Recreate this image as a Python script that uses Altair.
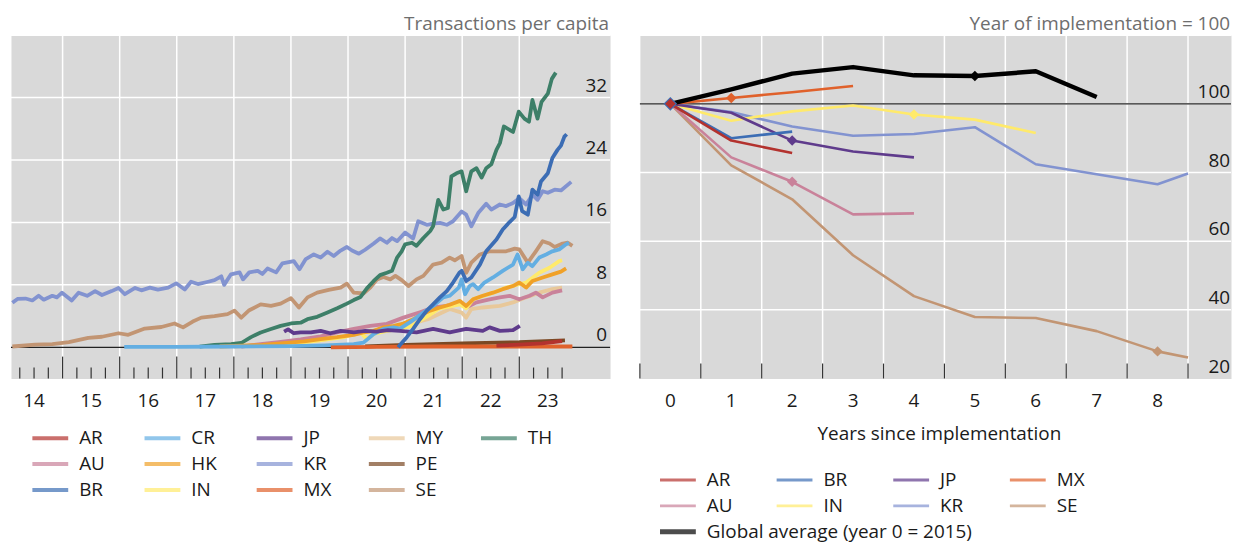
import altair as alt
import pandas as pd

FONT = "Open Sans"
FS = 19
TXT = "#1a1a1a"
GREY_TXT = "#6e6e6e"
BG = "#d9d9d9"
LEFT_W, RIGHT_W, H = 602, 594, 345
RIGHT_UNIT = 61.2  # px per year on the right panel

# ---------------- left panel: transactions per capita ----------------
left_title = "Transactions per capita"
left_codes = ["AR", "AU", "BR", "CR", "HK", "IN", "JP", "KR", "MX", "MY", "PE", "SE", "TH"]
left_colors = ["#b3322e", "#c9829a", "#3c6db4", "#63aee2", "#f0a128", "#ffea6b", "#5f3b8c",
               "#8293d0", "#e0612b", "#e8c89a", "#7b4924", "#c29573", "#3d7f68"]
left_draw_order = ["KR", "SE", "TH", "MY", "AU", "IN", "HK", "CR", "JP", "PE", "MX", "BR", "AR"]

KR = [(2014.12, 5.7), (2014.21, 6.2), (2014.35, 6.25), (2014.47, 6.0), (2014.58, 6.6), (2014.67, 6.1),
      (2014.82, 6.6), (2014.90, 6.4), (2014.99, 7.0), (2015.16, 6.0), (2015.28, 7.0), (2015.43, 6.6),
      (2015.57, 7.2), (2015.69, 6.7), (2015.86, 7.2), (2015.98, 7.6), (2016.09, 6.8), (2016.27, 7.6),
      (2016.38, 7.3), (2016.53, 7.65), (2016.67, 7.4), (2016.85, 7.65), (2016.99, 8.2), (2017.14, 7.4),
      (2017.25, 8.4), (2017.37, 8.1), (2017.55, 8.4), (2017.66, 8.6), (2017.78, 9.1), (2017.83, 8.0),
      (2017.95, 9.35), (2018.10, 9.6), (2018.16, 8.7), (2018.27, 9.6), (2018.42, 9.8), (2018.50, 9.4),
      (2018.59, 10.1), (2018.74, 9.6), (2018.85, 10.75), (2019.05, 11.05), (2019.15, 10.0), (2019.26, 11.3),
      (2019.40, 11.9), (2019.52, 11.5), (2019.64, 12.25), (2019.75, 11.7), (2019.87, 12.4), (2019.98, 12.85),
      (2020.07, 12.4), (2020.19, 12.0), (2020.30, 12.5), (2020.45, 13.3), (2020.56, 13.95), (2020.68, 13.4),
      (2020.77, 14.0), (2020.86, 13.6), (2021.00, 14.7), (2021.14, 13.95), (2021.23, 16.15), (2021.38, 15.7),
      (2021.49, 15.85), (2021.61, 15.95), (2021.73, 15.7), (2021.84, 16.15), (2021.99, 17.4), (2022.07, 17.0),
      (2022.16, 15.5), (2022.28, 17.2), (2022.42, 18.4), (2022.51, 17.65), (2022.66, 18.3), (2022.77, 18.1),
      (2022.89, 18.5), (2023.00, 19.1), (2023.12, 18.3), (2023.23, 19.55), (2023.32, 18.9), (2023.41, 20.0),
      (2023.50, 19.8), (2023.62, 20.2), (2023.73, 20.1), (2023.91, 21.2)]
SE = [(2014.12, 0.1), (2014.52, 0.35), (2014.82, 0.4), (2015.11, 0.65), (2015.45, 1.2), (2015.69, 1.35),
      (2015.98, 1.8), (2016.15, 1.6), (2016.44, 2.4), (2016.73, 2.6), (2016.96, 3.05), (2017.11, 2.55),
      (2017.28, 3.3), (2017.43, 3.8), (2017.66, 4.0), (2017.89, 4.25), (2018.01, 4.7), (2018.13, 3.8),
      (2018.27, 4.75), (2018.47, 5.5), (2018.65, 5.3), (2018.82, 5.6), (2019.00, 6.3), (2019.14, 5.1),
      (2019.29, 6.4), (2019.46, 7.0), (2019.66, 7.35), (2019.87, 7.65), (2019.98, 8.15), (2020.10, 7.0),
      (2020.27, 6.9), (2020.39, 7.65), (2020.51, 8.7), (2020.62, 9.0), (2020.74, 8.7), (2020.83, 9.15),
      (2020.94, 8.6), (2021.06, 7.85), (2021.20, 8.7), (2021.32, 9.15), (2021.49, 10.6), (2021.64, 10.85),
      (2021.78, 11.5), (2021.87, 11.15), (2021.99, 11.7), (2022.07, 9.55), (2022.16, 10.85), (2022.31, 11.9),
      (2022.48, 12.3), (2022.63, 12.3), (2022.77, 12.3), (2022.92, 12.65), (2023.00, 12.55), (2023.15, 10.85),
      (2023.29, 12.3), (2023.41, 13.6), (2023.53, 13.3), (2023.62, 12.85), (2023.76, 13.3), (2023.85, 13.4),
      (2023.93, 13.0)]
TH = [(2017.40, 0.1), (2017.66, 0.3), (2017.95, 0.4), (2018.13, 0.55), (2018.30, 1.3), (2018.47, 1.9),
      (2018.65, 2.35), (2018.82, 2.75), (2019.00, 3.05), (2019.17, 3.15), (2019.29, 3.6), (2019.46, 3.9),
      (2019.64, 4.45), (2019.81, 5.0), (2019.98, 5.6), (2020.10, 6.05), (2020.22, 6.45), (2020.33, 7.55),
      (2020.45, 8.5), (2020.56, 9.25), (2020.68, 9.55), (2020.77, 9.8), (2020.86, 11.5), (2020.94, 12.3),
      (2021.00, 13.2), (2021.12, 13.4), (2021.20, 13.0), (2021.32, 14.0), (2021.44, 14.9), (2021.49, 15.5),
      (2021.58, 18.9), (2021.67, 17.65), (2021.75, 17.85), (2021.81, 21.9), (2021.90, 22.3), (2021.99, 22.55),
      (2022.07, 20.0), (2022.16, 22.55), (2022.25, 22.95), (2022.34, 21.75), (2022.42, 22.95), (2022.51, 23.45),
      (2022.60, 25.3), (2022.66, 26.15), (2022.73, 28.3), (2022.89, 27.6), (2022.99, 30.2), (2023.09, 29.3),
      (2023.17, 28.9), (2023.23, 31.7), (2023.32, 29.3), (2023.39, 31.45), (2023.50, 32.5), (2023.57, 34.4),
      (2023.64, 35.2)]
BR = [(2020.88, 0.0), (2020.91, 0.3), (2021.03, 1.3), (2021.14, 2.35), (2021.26, 3.6), (2021.38, 4.7),
      (2021.49, 5.5), (2021.61, 6.4), (2021.73, 7.2), (2021.84, 8.3), (2021.95, 9.55), (2021.99, 9.8),
      (2022.07, 8.5), (2022.16, 8.95), (2022.31, 10.6), (2022.42, 12.3), (2022.60, 13.8), (2022.71, 15.1),
      (2022.83, 16.05), (2022.92, 16.7), (2022.99, 19.35), (2023.05, 17.45), (2023.15, 17.0), (2023.23, 20.2),
      (2023.32, 19.55), (2023.38, 21.25), (2023.50, 22.3), (2023.58, 24.25), (2023.67, 25.3), (2023.73, 25.85),
      (2023.79, 27.0), (2023.83, 27.3)]
CR = [(2016.08, 0.05), (2017.00, 0.05), (2018.00, 0.1), (2019.00, 0.15), (2019.60, 0.25), (2020.10, 0.4),
      (2020.27, 0.6), (2020.45, 1.7), (2020.62, 2.35), (2020.80, 2.55), (2020.91, 2.4), (2021.08, 3.2),
      (2021.20, 3.8), (2021.32, 4.45), (2021.49, 5.3), (2021.67, 6.4), (2021.78, 6.6), (2021.94, 7.65),
      (2021.99, 8.7), (2022.05, 6.8), (2022.13, 7.85), (2022.19, 8.1), (2022.28, 7.45), (2022.39, 8.3),
      (2022.54, 8.95), (2022.71, 9.8), (2022.89, 10.6), (2022.97, 11.9), (2023.06, 10.0), (2023.15, 10.85),
      (2023.23, 10.4), (2023.35, 11.5), (2023.47, 11.9), (2023.58, 12.3), (2023.70, 12.55), (2023.82, 13.2),
      (2023.87, 13.4)]
HK = [(2017.75, 0.1), (2018.50, 0.3), (2018.82, 0.5), (2019.23, 0.75), (2019.52, 1.05), (2019.81, 1.3),
      (2020.10, 1.6), (2020.27, 1.9), (2020.45, 2.1), (2020.62, 2.55), (2020.80, 2.75), (2020.97, 3.05),
      (2021.14, 3.6), (2021.26, 4.05), (2021.44, 4.7), (2021.61, 5.1), (2021.78, 5.45), (2021.96, 5.95),
      (2022.07, 5.3), (2022.19, 6.15), (2022.36, 6.6), (2022.54, 7.0), (2022.71, 7.45), (2022.89, 7.85),
      (2023.00, 8.3), (2023.12, 7.65), (2023.23, 8.5), (2023.41, 8.95), (2023.58, 9.35), (2023.73, 9.7),
      (2023.82, 10.1)]
IN = [(2018.70, 0.3), (2019.30, 0.7), (2019.93, 1.3), (2020.10, 1.7), (2020.22, 1.9), (2020.33, 1.05),
      (2020.45, 1.7), (2020.68, 2.1), (2020.91, 2.35), (2021.12, 2.75), (2021.26, 3.4), (2021.44, 4.2),
      (2021.61, 5.0), (2021.96, 5.5), (2022.07, 5.0), (2022.19, 6.15), (2022.54, 7.0), (2022.77, 7.65),
      (2023.12, 8.3), (2023.35, 9.55), (2023.53, 10.2), (2023.70, 11.05), (2023.75, 11.15)]
MY = [(2018.00, 0.1), (2018.80, 0.4), (2019.50, 0.9), (2020.00, 1.5), (2020.50, 2.2), (2021.00, 2.8),
      (2021.40, 3.6), (2021.78, 4.9), (2021.99, 4.45), (2022.07, 3.8), (2022.16, 4.9), (2022.36, 5.1),
      (2022.66, 5.3), (2022.89, 5.75), (2023.12, 6.4), (2023.35, 7.0), (2023.58, 7.45), (2023.75, 7.65)]
AU = [(2018.13, 0.1), (2018.47, 0.4), (2018.82, 0.7), (2019.17, 1.0), (2019.52, 1.4), (2019.81, 1.9),
      (2020.10, 2.35), (2020.39, 2.75), (2020.68, 3.0), (2020.97, 3.8), (2021.12, 4.15), (2021.26, 4.5),
      (2021.49, 5.1), (2021.73, 5.3), (2021.96, 5.75), (2022.07, 5.1), (2022.25, 5.75), (2022.48, 6.15),
      (2022.66, 6.4), (2022.83, 6.6), (2023.00, 6.15), (2023.18, 6.6), (2023.29, 7.0), (2023.41, 6.4),
      (2023.58, 7.0), (2023.75, 7.3)]
JP = [(2018.88, 2.0), (2018.95, 2.3), (2019.05, 1.8), (2019.17, 1.9), (2019.35, 1.9), (2019.52, 2.1),
      (2019.69, 1.8), (2019.87, 2.1), (2020.10, 1.9), (2020.30, 2.1), (2020.50, 2.0), (2020.70, 2.2),
      (2020.91, 2.1), (2021.20, 1.9), (2021.49, 2.35), (2021.78, 1.9), (2022.07, 2.35), (2022.36, 2.1),
      (2022.48, 2.55), (2022.66, 2.1), (2022.89, 2.2), (2023.01, 2.75)]
MX = [(2019.70, 0.0), (2020.50, 0.05), (2021.50, 0.1), (2022.50, 0.1), (2023.93, 0.1)]
PE = [(2020.30, 0.1), (2021.00, 0.3), (2022.00, 0.5), (2023.00, 0.65), (2023.80, 0.9)]
AR = [(2022.60, 0.2), (2023.00, 0.35), (2023.40, 0.5), (2023.75, 0.8)]

left_series = {"KR": KR, "SE": SE, "TH": TH, "BR": BR, "CR": CR, "HK": HK, "IN": IN, "MY": MY,
               "AU": AU, "JP": JP, "MX": MX, "PE": PE, "AR": AR}

left_years = list(range(2014, 2024))
left_x_labels = ["14", "15", "16", "17", "18", "19", "20", "21", "22", "23"]
left_y_labels = [0, 8, 16, 24, 32]
left_y_grid = [8, 16, 24, 32, 40]

# ---------------- right panel ----------------
right_title = "Year of implementation = 100"
right_x_title = "Years since implementation"
global_name = "Global average (year 0 = 2015)"
right_codes = ["AR", "AU", "BR", "IN", "JP", "KR", "MX", "SE"]
right_colors = ["#b3322e", "#c9829a", "#3c6db4", "#ffea6b", "#5f3b8c", "#8293d0", "#e0612b", "#c29573"]
right_draw_order = ["SE", "AU", "KR", "IN", "JP", "BR", "AR", "MX", "GL"]

r_AR = [(0, 100), (1, 89.3), (2, 85.7)]
r_AU = [(0, 100), (1, 84.4), (2, 77.3), (3, 67.8), (4, 68.1)]
r_BR = [(0, 100), (1, 90.0), (2, 91.9)]
r_IN = [(0, 100), (1, 95.1), (2, 97.8), (3, 99.5), (4, 96.9), (5, 95.4), (6, 91.5)]
r_JP = [(0, 100), (1, 97.4), (2, 89.3), (3, 86.1), (4, 84.4)]
r_KR = [(0, 100), (1, 97.6), (2, 93.4), (3, 90.7), (4, 91.2), (5, 93.2), (6, 82.4), (7, 79.5), (8, 76.6), (8.5, 79.7)]
r_MX = [(0, 100), (1, 101.7), (2, 103.4), (3, 105.2)]
r_SE = [(0, 100), (1, 82.1), (2, 72.2), (3, 55.9), (4, 44.0), (5, 37.9), (6, 37.6), (7, 33.8), (8, 27.9), (8.5, 26.1)]
r_GL = [(0, 100), (1, 104.2), (2, 108.8), (3, 110.7), (4, 108.3), (5, 108.1), (6, 109.5), (7, 102.0)]
right_series = {"AR": r_AR, "AU": r_AU, "BR": r_BR, "IN": r_IN, "JP": r_JP, "KR": r_KR,
                "MX": r_MX, "SE": r_SE, "GL": r_GL}
marker_codes = ["BR", "AR", "MX", "JP", "AU", "IN", "SE", "GL"]
marker_years = [0, 0, 1, 2, 2, 4, 8, 5]

right_years = list(range(0, 9))
right_x_labels = [str(y) for y in right_years]
right_y_labels = [20, 40, 60, 80, 100]
right_y_grid = [40, 60, 80, 100, 120]

# ------------------------------------------------------------------
color_of = dict(zip(left_codes, left_colors))
rcolor_of = dict(zip(right_codes, right_colors))
rcolor_of["GL"] = "#000000"


def legend_layer(df, x0, dx, y0, dy, width, thick_col):
    d0 = -x0 / dx
    xs = alt.Scale(domain=[d0, d0 + width / dx], nice=False, zero=False)
    e0 = -y0 / dy
    ys = alt.Scale(domain=[e0, e0 + H / dy], nice=False, zero=False, reverse=True)
    layers = []
    for th in sorted(df[thick_col].unique()):
        sub = df[df[thick_col] == th]
        layers.append(alt.Chart(sub).mark_tick(orient="horizontal", size=36, thickness=float(th)).encode(
            x=alt.X("col:Q", scale=xs, axis=None),
            y=alt.Y("row:Q", scale=ys, axis=None),
            color=alt.Color("color:N", scale=None)))
    layers.append(alt.Chart(df).mark_text(align="left", baseline="middle", dx=29, fontSize=FS, color=TXT).encode(
        x=alt.X("col:Q", scale=xs, axis=None),
        y=alt.Y("row:Q", scale=ys, axis=None),
        text="label:N"))
    return alt.layer(*layers)


# ---------------- left chart ----------------
xL = alt.Scale(domain=[2014.096, 2024.59], nice=False, zero=False)
yL = alt.Scale(domain=[-4, 40], nice=False, zero=False)

bounds_df = pd.DataFrame({"t": left_years[1:]})
quarters_df = pd.DataFrame({"t": [y + q for y in left_years for q in (0.25, 0.5, 0.75)]})
xlab_df = pd.DataFrame({"t": [y + 0.5 for y in left_years], "lab": left_x_labels})

L = []
L.append(alt.Chart(bounds_df).mark_rule(color="white", strokeWidth=1.5).encode(
    x=alt.X("t:Q", scale=xL, axis=None)))
L.append(alt.Chart(pd.DataFrame({"v": left_y_grid})).mark_rule(color="white", strokeWidth=1.5).encode(
    y=alt.Y("v:Q", scale=yL, axis=None)))
L.append(alt.Chart(pd.DataFrame({"v": [0]})).mark_rule(color="#222222", strokeWidth=1.2).encode(
    y=alt.Y("v:Q", scale=yL, axis=None)))
L.append(alt.Chart(bounds_df).mark_rule(color="#333333", strokeWidth=1.2).encode(
    x=alt.X("t:Q", scale=xL, axis=None), y=alt.value(H - 22), y2=alt.value(H)))
L.append(alt.Chart(quarters_df).mark_rule(color="#333333", strokeWidth=1.2).encode(
    x=alt.X("t:Q", scale=xL, axis=None), y=alt.value(H - 11), y2=alt.value(H)))
for code in left_draw_order:
    df = pd.DataFrame(left_series[code], columns=["t", "v"])
    L.append(alt.Chart(df).mark_line(color=color_of[code], strokeWidth=3.8, strokeJoin="round").encode(
        x=alt.X("t:Q", scale=xL, axis=None), y=alt.Y("v:Q", scale=yL, axis=None)))
L.append(alt.Chart(pd.DataFrame({"v": left_y_labels})).mark_text(
    align="right", baseline="alphabetic", dy=-6, fontSize=FS, color=TXT).encode(
    x=alt.value(LEFT_W - 3), y=alt.Y("v:Q", scale=yL, axis=None), text=alt.Text("v:Q", format="d")))
L.append(alt.Chart(xlab_df).mark_text(align="center", baseline="middle", fontSize=FS, color=TXT).encode(
    x=alt.X("t:Q", scale=xL, axis=None), y=alt.value(H + 23), text="lab:N"))
L.append(alt.Chart(pd.DataFrame({"s": [left_title]})).mark_text(
    align="right", baseline="alphabetic", fontSize=FS, color=GREY_TXT).encode(
    x=alt.value(LEFT_W - 1), y=alt.value(-5), text="s:N"))

leg_left = pd.DataFrame({"label": left_codes, "color": left_colors,
                         "col": [i // 3 for i in range(len(left_codes))],
                         "row": [i % 3 for i in range(len(left_codes))],
                         "th": [4] * len(left_codes)})
left_chart = alt.layer(alt.layer(*L), legend_layer(leg_left, 39.5, 112.7, 405, 26, LEFT_W, "th")).resolve_scale(
    x="independent", y="independent").properties(width=LEFT_W, height=H)

# ---------------- right chart ----------------
xR = alt.Scale(domain=[-0.5, -0.5 + RIGHT_W / RIGHT_UNIT], nice=False, zero=False)
yR = alt.Scale(domain=[20, 120], nice=False, zero=False)
half_df = pd.DataFrame({"yr": [y + 0.5 for y in right_years]})
edge_df = pd.DataFrame({"yr": [-0.5] + [y + 0.5 for y in right_years]})
rxlab_df = pd.DataFrame({"yr": right_years, "lab": right_x_labels})

R = []
R.append(alt.Chart(half_df).mark_rule(color="white", strokeWidth=1.5).encode(
    x=alt.X("yr:Q", scale=xR, axis=None)))
R.append(alt.Chart(pd.DataFrame({"v": right_y_grid})).mark_rule(color="white", strokeWidth=1.5).encode(
    y=alt.Y("v:Q", scale=yR, axis=None)))
R.append(alt.Chart(pd.DataFrame({"v": [100]})).mark_rule(color="#222222", strokeWidth=1.2).encode(
    y=alt.Y("v:Q", scale=yR, axis=None)))
R.append(alt.Chart(edge_df).mark_rule(color="#333333", strokeWidth=1.2).encode(
    x=alt.X("yr:Q", scale=xR, axis=None), y=alt.value(H - 15), y2=alt.value(H)))
for code in right_draw_order:
    df = pd.DataFrame(right_series[code], columns=["yr", "v"])
    R.append(alt.Chart(df).mark_line(color=rcolor_of[code], strokeWidth=4.5 if code == "GL" else 2.6,
                                     strokeJoin="round").encode(
        x=alt.X("yr:Q", scale=xR, axis=None), y=alt.Y("v:Q", scale=yR, axis=None)))
mk = pd.DataFrame({
    "yr": marker_years,
    "v": [dict(right_series[c])[y] for c, y in zip(marker_codes, marker_years)],
    "color": [rcolor_of[c] for c in marker_codes],
    "sz": [190 if c == "BR" else 110 for c in marker_codes],
})
R.append(alt.Chart(mk).mark_point(shape="diamond", filled=True, opacity=1).encode(
    x=alt.X("yr:Q", scale=xR, axis=None), y=alt.Y("v:Q", scale=yR, axis=None),
    color=alt.Color("color:N", scale=None), size=alt.Size("sz:Q", scale=None)))
R.append(alt.Chart(pd.DataFrame({"v": right_y_labels})).mark_text(
    align="right", baseline="alphabetic", dy=-6, fontSize=FS, color=TXT).encode(
    x=alt.value(RIGHT_W - 1), y=alt.Y("v:Q", scale=yR, axis=None), text=alt.Text("v:Q", format="d")))
R.append(alt.Chart(rxlab_df).mark_text(align="center", baseline="middle", fontSize=FS, color=TXT).encode(
    x=alt.X("yr:Q", scale=xR, axis=None), y=alt.value(H + 23), text="lab:N"))
R.append(alt.Chart(pd.DataFrame({"s": [right_x_title]})).mark_text(
    align="center", baseline="middle", fontSize=FS, color=TXT).encode(
    x=alt.value(301), y=alt.value(H + 56), text="s:N"))
R.append(alt.Chart(pd.DataFrame({"s": [right_title]})).mark_text(
    align="right", baseline="alphabetic", fontSize=FS, color=GREY_TXT).encode(
    x=alt.value(RIGHT_W - 1), y=alt.value(-5), text="s:N"))

leg_right = pd.DataFrame({"label": right_codes + [global_name],
                          "color": right_colors + ["#000000"],
                          "col": [i // 2 for i in range(len(right_codes))] + [0],
                          "row": [i % 2 for i in range(len(right_codes))] + [2],
                          "th": [3] * len(right_codes) + [5]})
right_chart = alt.layer(alt.layer(*R), legend_layer(leg_right, 38.2, 117.2, 447, 26, RIGHT_W, "th")).resolve_scale(
    x="independent", y="independent").properties(width=RIGHT_W, height=H)

chart = alt.hconcat(left_chart, right_chart, spacing=26).properties(
    padding={"left": 1, "top": 5, "right": 0, "bottom": 0}
).configure(font=FONT).configure_view(fill=BG, stroke="transparent")

chart.save("out.html", embed_options={"renderer": "svg", "actions": False})
